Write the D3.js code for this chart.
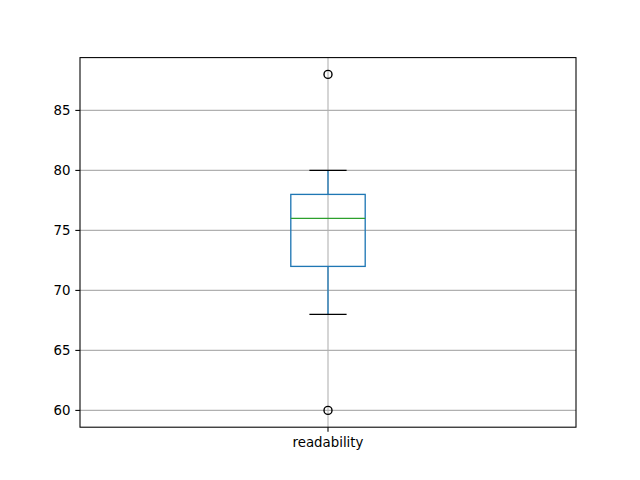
<!DOCTYPE html>
<html>
<head>
<meta charset="utf-8">
<script src="https://cdn.jsdelivr.net/npm/d3@7"></script>
<style>
  body { margin: 0; background: #fff; }
  text { font-family: "DejaVu Sans", sans-serif; font-size: 13.33px; fill: #000; }
</style>
</head>
<body>
<script>
// box plot summary
var categories = ["readability"];
var q1 = [72];
var median = [76];
var q3 = [78];
var whiskerLow = [68];
var whiskerHigh = [80];
var fliers = [[60, 88]];
var yTicks = [60, 65, 70, 75, 80, 85];

var width = 640, height = 480;
// plot area (named so it doesn't clash with window.top)
var plotLeft = 80, plotRight = 576, plotTop = 57.6, plotBottom = 427.2;

var svg = d3.select("body").append("svg")
    .attr("width", width)
    .attr("height", height);

// x: positions 1..n, range 0.5..n+0.5
var x = d3.scaleLinear().domain([0.5, categories.length + 0.5]).range([plotLeft, plotRight]);
var y = d3.scaleLinear().domain([58.6, 89.4]).range([plotBottom, plotTop]);

var boxW = 0.15; // data units
var capW = boxW / 2;

// grid
var grid = svg.append("g");
yTicks.forEach(function (t) {
    grid.append("line")
        .attr("x1", plotLeft).attr("x2", plotRight)
        .attr("y1", y(t)).attr("y2", y(t))
        .attr("stroke", "#b0b0b0").attr("stroke-width", 1.07);
});
categories.forEach(function (c, i) {
    grid.append("line")
        .attr("x1", x(i + 1)).attr("x2", x(i + 1))
        .attr("y1", plotTop).attr("y2", plotBottom)
        .attr("stroke", "#b0b0b0").attr("stroke-width", 1.07);
});

// boxes
categories.forEach(function (c, i) {
    var cx = x(i + 1);
    var g = svg.append("g");
    // whiskers
    g.append("line").attr("x1", cx).attr("x2", cx)
        .attr("y1", y(q1[i])).attr("y2", y(whiskerLow[i]))
        .attr("stroke", "#1f77b4").attr("stroke-width", 1.33);
    g.append("line").attr("x1", cx).attr("x2", cx)
        .attr("y1", y(q3[i])).attr("y2", y(whiskerHigh[i]))
        .attr("stroke", "#1f77b4").attr("stroke-width", 1.33);
    // caps
    [whiskerLow[i], whiskerHigh[i]].forEach(function (v) {
        g.append("line")
            .attr("x1", x(i + 1 - capW / 2)).attr("x2", x(i + 1 + capW / 2))
            .attr("y1", y(v)).attr("y2", y(v))
            .attr("stroke", "#000").attr("stroke-width", 1.33);
    });
    // box
    g.append("rect")
        .attr("x", x(i + 1 - boxW / 2))
        .attr("y", y(q3[i]))
        .attr("width", x(i + 1 + boxW / 2) - x(i + 1 - boxW / 2))
        .attr("height", y(q1[i]) - y(q3[i]))
        .attr("fill", "none")
        .attr("stroke", "#1f77b4").attr("stroke-width", 1.33);
    // median
    g.append("line")
        .attr("x1", x(i + 1 - boxW / 2)).attr("x2", x(i + 1 + boxW / 2))
        .attr("y1", y(median[i])).attr("y2", y(median[i]))
        .attr("stroke", "#2ca02c").attr("stroke-width", 1.33);
    // fliers
    fliers[i].forEach(function (v) {
        g.append("circle")
            .attr("cx", cx).attr("cy", y(v)).attr("r", 4)
            .attr("fill", "none").attr("stroke", "#000").attr("stroke-width", 1.4);
    });
});

// spines
svg.append("rect")
    .attr("x", plotLeft).attr("y", plotTop)
    .attr("width", plotRight - plotLeft).attr("height", plotBottom - plotTop)
    .attr("fill", "none").attr("stroke", "#000").attr("stroke-width", 1.07);

// y axis ticks
yTicks.forEach(function (t) {
    svg.append("line")
        .attr("x1", plotLeft - 4.67).attr("x2", plotLeft)
        .attr("y1", y(t)).attr("y2", y(t))
        .attr("stroke", "#000").attr("stroke-width", 1.07);
    svg.append("text")
        .attr("x", plotLeft - 9.5).attr("y", y(t))
        .attr("dy", "0.35em")
        .attr("text-anchor", "end")
        .text(t);
});

// x axis ticks
categories.forEach(function (c, i) {
    svg.append("line")
        .attr("x1", x(i + 1)).attr("x2", x(i + 1))
        .attr("y1", plotBottom).attr("y2", plotBottom + 4.67)
        .attr("stroke", "#000").attr("stroke-width", 1.07);
    svg.append("text")
        .attr("x", x(i + 1)).attr("y", plotBottom + 9.5)
        .attr("dy", "0.76em")
        .attr("text-anchor", "middle")
        .text(c);
});
</script>
</body>
</html>
